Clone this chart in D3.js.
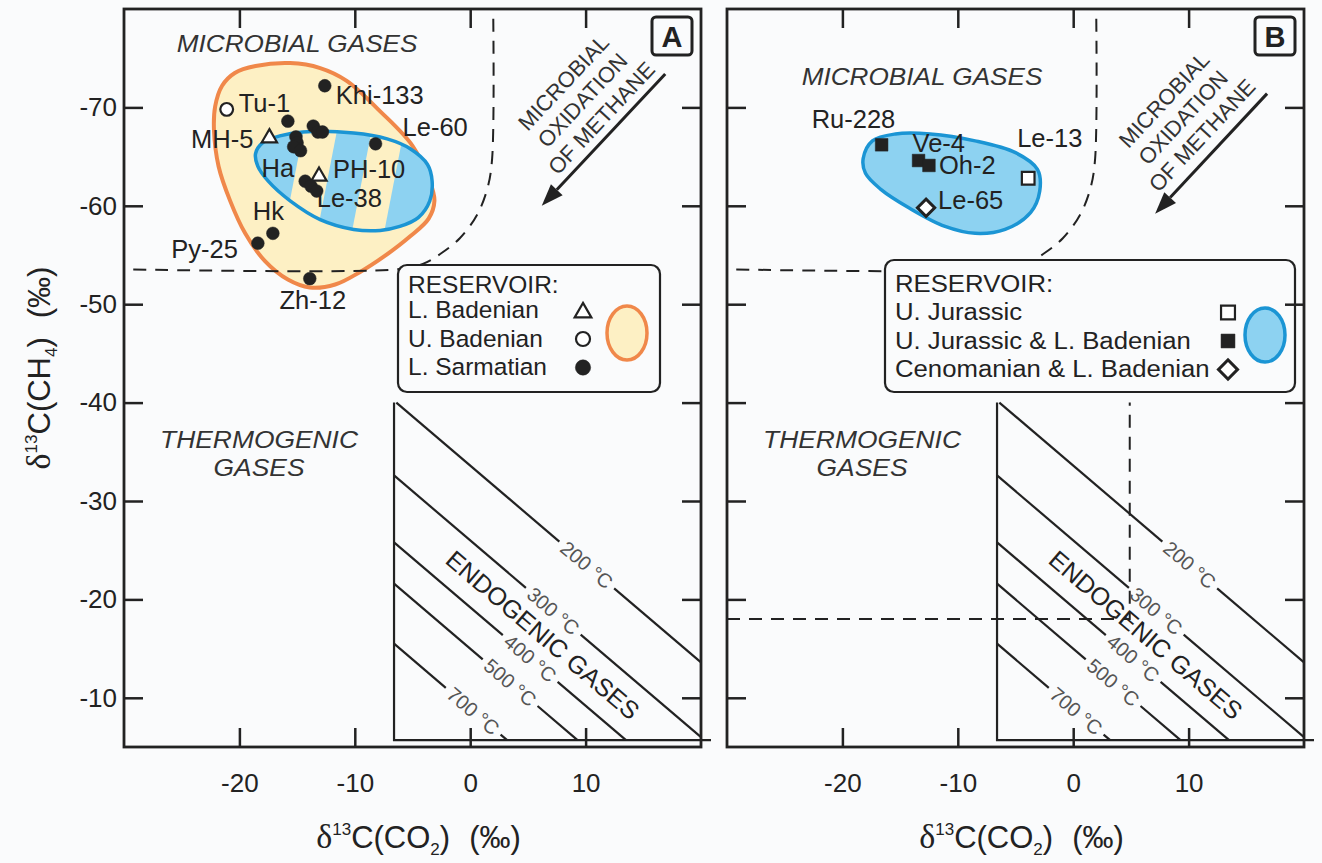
<!DOCTYPE html>
<html>
<head>
<meta charset="utf-8">
<script src="https://cdn.jsdelivr.net/npm/d3@7/dist/d3.min.js"></script>
<style>
  html, body { margin: 0; padding: 0; background: #fafbfc; }
  svg { display: block; }
  text { font-family: "Liberation Sans", Arial, Helvetica, sans-serif; fill: #222; }
</style>
</head>
<body>
<svg id="chart" width="1322" height="863"></svg>
<script>
// ---------- axes (‰) ----------
const co2Domain = [-30, 20];
const ch4Domain = [-80, -5];
const co2Ticks = [-20, -10, 0, 10];
const ch4Ticks = [-70, -60, -50, -40, -30, -20, -10];

// ---------- reservoirs, legend order ----------
const reservoirsA = ["L. Badenian", "U. Badenian", "L. Sarmatian"];
const reservoirsB = ["U. Jurassic", "U. Jurassic & L. Badenian", "Cenomanian & L. Badenian"];

// ---------- samples: δ13C(CO2), δ13C(CH4) ----------
const samplesA = [
  { name: "Tu-1",    reservoir: "U. Badenian",  co2: -21.1, ch4: -69.8 },
  { name: "Khi-133", reservoir: "L. Sarmatian", co2: -12.6, ch4: -72.2 },
  { name: "MH-5",    reservoir: "L. Badenian",  co2: -17.4, ch4: -67.1 },
  { name: "",        reservoir: "L. Sarmatian", co2: -15.8, ch4: -68.6 },
  { name: "",        reservoir: "L. Sarmatian", co2: -13.6, ch4: -68.1 },
  { name: "",        reservoir: "L. Sarmatian", co2: -13.2, ch4: -67.5 },
  { name: "",        reservoir: "L. Sarmatian", co2: -12.8, ch4: -67.5 },
  { name: "Le-60",   reservoir: "L. Sarmatian", co2: -8.2,  ch4: -66.3 },
  { name: "",        reservoir: "L. Sarmatian", co2: -15.1, ch4: -67.0 },
  { name: "",        reservoir: "L. Sarmatian", co2: -15.0, ch4: -66.4 },
  { name: "",        reservoir: "L. Sarmatian", co2: -15.3, ch4: -66.0 },
  { name: "Ha",      reservoir: "L. Sarmatian", co2: -14.7, ch4: -65.6 },
  { name: "PH-10",   reservoir: "L. Badenian",  co2: -13.1, ch4: -63.2 },
  { name: "",        reservoir: "L. Sarmatian", co2: -14.3, ch4: -62.5 },
  { name: "",        reservoir: "L. Sarmatian", co2: -13.8, ch4: -62.0 },
  { name: "Le-38",   reservoir: "L. Sarmatian", co2: -13.3, ch4: -61.5 },
  { name: "Hk",      reservoir: "L. Sarmatian", co2: -17.1, ch4: -57.2 },
  { name: "Py-25",   reservoir: "L. Sarmatian", co2: -18.4, ch4: -56.2 },
  { name: "Zh-12",   reservoir: "L. Sarmatian", co2: -13.9, ch4: -52.6 }
];
const samplesB = [
  { name: "Ru-228", reservoir: "U. Jurassic & L. Badenian", co2: -16.6,  ch4: -66.2 },
  { name: "Ve-4",   reservoir: "U. Jurassic & L. Badenian", co2: -13.4,  ch4: -64.6 },
  { name: "Oh-2",   reservoir: "U. Jurassic & L. Badenian", co2: -12.5,  ch4: -64.1 },
  { name: "Le-13",  reservoir: "U. Jurassic",               co2: -3.9,   ch4: -62.8 },
  { name: "Le-65",  reservoir: "Cenomanian & L. Badenian",  co2: -12.75, ch4: -59.8 }
];

// ---------- sample fields (outlines in δ13C CO2 / CH4) ----------
const fieldOuterA = [
  [-22.1, -70.1], [-21.5, -72.2], [-20.4, -73.5], [-18.6, -74.2], [-15.6, -74.5],
  [-13.0, -74.0], [-10.7, -72.7], [-7.8, -69.6], [-5.0, -66.1], [-3.5, -62.5],
  [-3.1, -60.5], [-3.6, -58.7], [-5.2, -56.9], [-7.4, -54.9], [-9.5, -53.3],
  [-11.7, -52.0], [-13.9, -51.7], [-15.8, -52.5], [-17.8, -54.4], [-19.5, -57.2],
  [-20.8, -60.5], [-21.8, -64.0], [-22.2, -67.6]
];
const fieldInnerA = [
  [-18.6, -65.3], [-18.0, -66.4], [-16.5, -67.1], [-14.5, -67.5], [-10.1, -67.4],
  [-7.2, -66.8], [-5.2, -65.8], [-3.7, -64.2], [-3.3, -62.5], [-3.5, -60.5],
  [-4.5, -58.8], [-6.1, -57.9], [-7.8, -57.5], [-10.1, -57.6], [-13.0, -58.6],
  [-15.6, -60.5], [-17.5, -62.5], [-18.4, -64.0]
];
const fieldB = [
  [-18.2, -64.8], [-17.4, -66.6], [-15.4, -67.3], [-12.4, -67.3], [-8.5, -66.6],
  [-5.0, -65.4], [-3.1, -63.7], [-2.9, -61.5], [-3.7, -59.3], [-5.9, -57.6],
  [-8.5, -57.2], [-11.1, -57.9], [-14.1, -59.7], [-16.7, -61.7], [-18.0, -63.3]
];
// alternating bands inside the shared field of panel A (CO2 edges at CH4 = -66.7)
const bandEdgesA = [[-14.6, -11.7], [-8.7, -5.9]];

// ---------- genetic boundaries ----------
const microbialLimit = [
  [2.0, -79.0], [1.9, -64.8], [1.5, -61.8], [0.6, -59.1], [-0.9, -56.7],
  [-2.6, -55.1], [-4.1, -54.1], [-6.3, -53.55], [-30, -53.55]
];
const extraLimitB = [[-30, -18.0], [4.9, -18.0], [4.9, -40.0]];
const endogenicCorner = { co2: -6.6, ch4Top: -40, ch4Bottom: -5.7 };

// ---------- CO2–CH4 isotherms: Δ = δ13C(CO2) − δ13C(CH4) ----------
const isothermTemps = [200, 300, 400, 500, 700];
const isothermDelta = [33.6, 26.0, 19.2, 15.0, 8.9];

// ---------- drawing ----------
const svg = d3.select("#chart");
const TOP = 9, BOTTOM = 747, TICK = 19;
const INK = "#222";
const BG = "#fafbfc";
const ORANGE = "#f0884a", CREAM = "#fdf0c4";
const BLUE_FILL = "#8dd2f1", BLUE_LINE = "#1b95d4";

const symbolStyle = {
  "L. Badenian":               { shape: "triangle", filled: false },
  "U. Badenian":               { shape: "circle",   filled: false },
  "L. Sarmatian":              { shape: "circle",   filled: true },
  "U. Jurassic":               { shape: "square",   filled: false },
  "U. Jurassic & L. Badenian": { shape: "square",   filled: true },
  "Cenomanian & L. Badenian":  { shape: "diamond",  filled: false }
};

// label offsets in px from the sample mark: [dx, dy(baseline), anchor]
const labelOffsets = {
  "Tu-1": [12, 3, "start"], "Khi-133": [11, 18, "start"], "MH-5": [-16, 12, "end"],
  "Le-60": [27, -8, "start"], "Ha": [-39, 26, "start"], "PH-10": [14, 4, "start"],
  "Le-38": [0, 16, "start"], "Hk": [-20, -13, "start"], "Py-25": [-20, 15, "end"],
  "Zh-12": [3, 30, "middle"],
  "Ru-228": [-70, -17, "start"], "Ve-4": [-6, -9, "start"], "Oh-2": [10, 9, "start"],
  "Le-13": [-11, -31, "start"], "Le-65": [12, 1, "start"]
};

// text placed at (x, y) and widened horizontally by sx
function wideText(parent, x, y, str, size, sx) {
  return parent.append("text")
    .attr("transform", `translate(${x},${y}) scale(${sx},1)`)
    .attr("font-size", size).text(str);
}

function symbolPath(shape, scale) {
  const s = scale || 1;
  if (shape === "triangle") return d3.symbol(d3.symbolTriangle, 100 * s * s)();
  if (shape === "circle") return d3.symbol(d3.symbolCircle, 128 * s * s)();
  if (shape === "square") return d3.symbol(d3.symbolSquare, 160 * s * s)();
  return d3.symbol(d3.symbolSquare, 150 * s * s)();
}

function drawMark(g, reservoir, px, py, scale) {
  const st = symbolStyle[reservoir];
  const open = st.shape === "diamond" ? 3 : 2.2;
  g.append("path")
    .attr("d", symbolPath(st.shape, scale))
    .attr("transform", `translate(${px},${py})` + (st.shape === "diamond" ? " rotate(45)" : "") +
          (st.shape === "triangle" ? " translate(0,2)" : ""))
    .attr("fill", st.filled ? INK : "#fff")
    .attr("stroke", INK)
    .attr("stroke-width", st.filled ? 0.5 : open)
    .attr("stroke-linejoin", "miter");
}

function gasTitle(t, gas, sub) {
  t.append("tspan").attr("font-family", "'Liberation Serif', 'DejaVu Serif', serif").attr("font-size", 34).text("δ");
  t.append("tspan").attr("font-size", 17).attr("dy", -13).text("13");
  t.append("tspan").attr("dy", 13).text("C(" + gas);
  t.append("tspan").attr("font-size", 17).attr("dy", 7).text(sub);
  t.append("tspan").attr("dy", -7).text(")");
  t.append("tspan").attr("dx", 19).text("(‰)");
}

const panels = [
  {
    key: "A", left: 124, right: 701, samples: samplesA, reservoirs: reservoirsA,
    microbialText: [-15.0, -76.5], oxText: [9.7, -70.75],
    arrow: [[16.9, -73.4], [6.2, -60.0]],
    legend: { x: 398, y: 265, w: 262, h: 127, symX: 583, ovalX: 627, ovalY: 333,
              font: 24.5, sx: 1.0, head: 28, first: 53 },
    legendField: { fill: CREAM, stroke: ORANGE }
  },
  {
    key: "B", left: 727, right: 1304, samples: samplesB, reservoirs: reservoirsB,
    microbialText: [-13.1, -73.1], oxText: [9.5, -69.0],
    arrow: [[16.8, -71.4], [7.1, -59.2]],
    legend: { x: 885, y: 260, w: 410, h: 132, symX: 1228, ovalX: 1265, ovalY: 335,
              font: 24.5, sx: 1.05, head: 32, first: 60 },
    legendField: { fill: BLUE_FILL, stroke: BLUE_LINE }
  }
];

panels.forEach(p => {
  const x = d3.scaleLinear().domain(co2Domain).range([p.left, p.right]);
  const y = d3.scaleLinear().domain(ch4Domain).range([TOP, BOTTOM]);
  const g = svg.append("g").attr("class", "panel-" + p.key);

  const closed = d3.line().x(d => x(d[0])).y(d => y(d[1])).curve(d3.curveCatmullRomClosed.alpha(0.5));
  const open = d3.line().x(d => x(d[0])).y(d => y(d[1])).curve(d3.curveCatmullRom.alpha(0.5));
  const straight = d3.line().x(d => x(d[0])).y(d => y(d[1]));

  // ---- sample fields ----
  if (p.key === "A") {
    g.append("path").attr("d", closed(fieldOuterA))
      .attr("fill", CREAM).attr("stroke", ORANGE).attr("stroke-width", 4);
    const clipId = "clip-inner-A";
    svg.append("defs").append("clipPath").attr("id", clipId)
      .append("path").attr("d", closed(fieldInnerA));
    g.append("path").attr("d", closed(fieldInnerA)).attr("fill", BLUE_FILL);
    const vRef = -66.7, lean = -0.166;
    g.append("g").attr("clip-path", `url(#${clipId})`)
      .selectAll("path").data(bandEdgesA).join("path")
      .attr("fill", CREAM)
      .attr("d", b => straight([
        [b[0] + lean * (-71 - vRef), -71], [b[1] + lean * (-71 - vRef), -71],
        [b[1] + lean * (-54 - vRef), -54], [b[0] + lean * (-54 - vRef), -54]
      ]) + "Z");
    g.append("path").attr("d", closed(fieldInnerA))
      .attr("fill", "none").attr("stroke", BLUE_LINE).attr("stroke-width", 3.5);
  } else {
    g.append("path").attr("d", closed(fieldB))
      .attr("fill", BLUE_FILL).attr("stroke", BLUE_LINE).attr("stroke-width", 3.5);
  }

  // ---- dashed genetic boundaries ----
  g.append("path").attr("d", open(microbialLimit))
    .attr("fill", "none").attr("stroke", INK).attr("stroke-width", 2).attr("stroke-dasharray", "13,9");
  if (p.key === "B") {
    g.append("path").attr("d", straight(extraLimitB))
      .attr("fill", "none").attr("stroke", INK).attr("stroke-width", 2).attr("stroke-dasharray", "13,9");
  }

  // ---- endogenic field and isotherms ----
  const ec = endogenicCorner;
  g.append("path")
    .attr("d", `M${x(ec.co2)},${y(ec.ch4Top)}V${y(ec.ch4Bottom)}H${p.right + 10}`)
    .attr("fill", "none").attr("stroke", INK).attr("stroke-width", 2.2);

  const ang = Math.atan2(y(-10) - y(-20), x(10) - x(0)) * 180 / Math.PI; // slope-1 lines in data space
  const gapCenters = [10.1, 7.2, 5.2, 3.46, 0.26];
  isothermTemps.forEach((t, i) => {
    const d = isothermDelta[i];
    const u0 = Math.max(ec.co2, ec.ch4Top + d);
    const u1 = Math.min(co2Domain[1], ec.ch4Bottom + d);
    const p0 = [x(u0), y(u0 - d)], p1 = [x(u1), y(u1 - d)];
    const len = Math.hypot(p1[0] - p0[0], p1[1] - p0[1]);
    const ux = (p1[0] - p0[0]) / len, uy = (p1[1] - p0[1]) / len;
    const c = [x(gapCenters[i]), y(gapCenters[i] - d)];
    const half = 36;
    g.append("line").attr("x1", p0[0]).attr("y1", p0[1])
      .attr("x2", c[0] - half * ux).attr("y2", c[1] - half * uy)
      .attr("stroke", INK).attr("stroke-width", 2.2);
    g.append("line").attr("x1", c[0] + half * ux).attr("y1", c[1] + half * uy)
      .attr("x2", p1[0]).attr("y2", p1[1])
      .attr("stroke", INK).attr("stroke-width", 2.2);
    g.append("text").attr("transform", `translate(${c[0]},${c[1]}) rotate(${ang})`)
      .attr("text-anchor", "middle").attr("dy", "0.35em")
      .attr("font-size", 20).style("fill", "#555").text(t + " °C");
  });
  g.append("text").attr("transform", `translate(${x(6.3)},${y(-16.4)}) rotate(${ang})`)
    .attr("text-anchor", "middle").attr("dy", "0.36em").attr("font-size", 25)
    .text("ENDOGENIC GASES");

  // ---- field names ----
  wideText(g, x(p.microbialText[0]), y(p.microbialText[1]) + 8.5, "MICROBIAL GASES", 24, 1.09)
    .attr("text-anchor", "middle").attr("font-style", "italic").style("fill", "#333");
  wideText(g, x(-18.3), y(-36.3) + 8.5, "THERMOGENIC", 24, 1.1)
    .attr("text-anchor", "middle").attr("font-style", "italic").style("fill", "#333");
  wideText(g, x(-18.3), y(-36.3) + 36.5, "GASES", 24, 1.1)
    .attr("text-anchor", "middle").attr("font-style", "italic").style("fill", "#333");

  // ---- oxidation arrow ----
  const [tail, tip] = p.arrow.map(d => [x(d[0]), y(d[1])]);
  const a = Math.atan2(tip[1] - tail[1], tip[0] - tail[0]);
  const hl = 22, hw = 8;
  const bx = tip[0] - hl * Math.cos(a), by = tip[1] - hl * Math.sin(a);
  g.append("line").attr("x1", tail[0]).attr("y1", tail[1]).attr("x2", bx).attr("y2", by)
    .attr("stroke", INK).attr("stroke-width", 3);
  g.append("path").attr("fill", INK)
    .attr("d", `M${tip[0]},${tip[1]}L${bx + hw * Math.sin(a)},${by - hw * Math.cos(a)}L${bx - hw * Math.sin(a)},${by + hw * Math.cos(a)}Z`);
  const textAng = Math.atan2(tail[1] - tip[1], tail[0] - tip[0]) * 180 / Math.PI;
  const ox = g.append("g").attr("transform", `translate(${x(p.oxText[0])},${y(p.oxText[1])}) rotate(${textAng})`);
  ["MICROBIAL", "OXIDATION", "OF METHANE"].forEach((s, i) => {
    ox.append("text").attr("x", 0).attr("y", (i - 1) * 26 + 8).attr("text-anchor", "middle")
      .attr("font-size", 22).style("fill", "#333").text(s);
  });

  // ---- samples ----
  p.samples.forEach(d => drawMark(g, d.reservoir, x(d.co2), y(d.ch4), 1));
  p.samples.filter(d => d.name).forEach(d => {
    const o = labelOffsets[d.name];
    g.append("text").attr("x", x(d.co2) + o[0]).attr("y", y(d.ch4) + o[1])
      .attr("text-anchor", o[2]).attr("font-size", 25.5).text(d.name);
  });

  // ---- legend ----
  const L = p.legend;
  g.append("rect").attr("x", L.x).attr("y", L.y).attr("width", L.w).attr("height", L.h)
    .attr("rx", 9).attr("fill", BG).attr("stroke", INK).attr("stroke-width", 2.2);
  wideText(g, L.x + 10, L.y + L.head, "RESERVOIR:", L.font, L.sx);
  p.reservoirs.forEach((r, i) => {
    const base = L.y + L.first + i * 28.5;
    wideText(g, L.x + 10, base, r, L.font, L.sx);
    drawMark(g, r, L.symX, base - 7.5, symbolStyle[r].shape === "circle" && symbolStyle[r].filled ? 1.2 : 1.1);
  });
  g.append("ellipse").attr("cx", L.ovalX).attr("cy", L.ovalY).attr("rx", 20).attr("ry", 27)
    .attr("fill", p.legendField.fill).attr("stroke", p.legendField.stroke).attr("stroke-width", 3.5);

  // ---- panel letter ----
  g.append("rect").attr("x", p.right - 49).attr("y", 17).attr("width", 40).attr("height", 38)
    .attr("rx", 4).attr("fill", BG).attr("stroke", INK).attr("stroke-width", 3);
  g.append("text").attr("x", p.right - 29).attr("y", 47).attr("text-anchor", "middle")
    .attr("font-size", 29).attr("font-weight", "bold").text(p.key);

  // ---- axes with inward ticks ----
  const styleAxis = sel => {
    sel.select(".domain").remove();
    sel.selectAll(".tick line").attr("stroke", INK).attr("stroke-width", 2.5);
    sel.selectAll(".tick text").attr("font-size", 26).style("fill", INK)
      .attr("font-family", "'Liberation Sans', Arial, sans-serif");
  };
  const yFmt = d => (d < 0 ? "-" : "") + Math.abs(d);
  g.append("g").attr("transform", `translate(${p.left},0)`)
    .call(d3.axisLeft(y).tickValues(ch4Ticks).tickSize(-TICK).tickPadding(7)
      .tickFormat(p.key === "A" ? yFmt : () => ""))
    .call(styleAxis);
  g.append("g").attr("transform", `translate(${p.right},0)`)
    .call(d3.axisRight(y).tickValues(ch4Ticks).tickSize(-TICK).tickFormat(() => ""))
    .call(styleAxis);
  g.append("g").attr("transform", `translate(0,${BOTTOM})`)
    .call(d3.axisBottom(x).tickValues(co2Ticks).tickSize(-TICK).tickPadding(27).tickFormat(yFmt))
    .call(styleAxis);
  g.append("g").attr("transform", `translate(0,${TOP})`)
    .call(d3.axisTop(x).tickValues(co2Ticks).tickSize(-TICK).tickFormat(() => ""))
    .call(styleAxis);

  g.append("rect").attr("x", p.left).attr("y", TOP).attr("width", p.right - p.left).attr("height", BOTTOM - TOP)
    .attr("fill", "none").attr("stroke", INK).attr("stroke-width", 2.8);

  // ---- x-axis title ----
  const xt = g.append("text").attr("x", (p.left + p.right) / 2 + 6).attr("y", 848)
    .attr("text-anchor", "middle").attr("font-size", 31);
  gasTitle(xt, "CO", "2");
});

// ---- y-axis title ----
const yt = svg.append("text").attr("transform", "translate(50,368) rotate(-90)")
  .attr("text-anchor", "middle").attr("font-size", 31);
gasTitle(yt, "CH", "4");
</script>
</body>
</html>
